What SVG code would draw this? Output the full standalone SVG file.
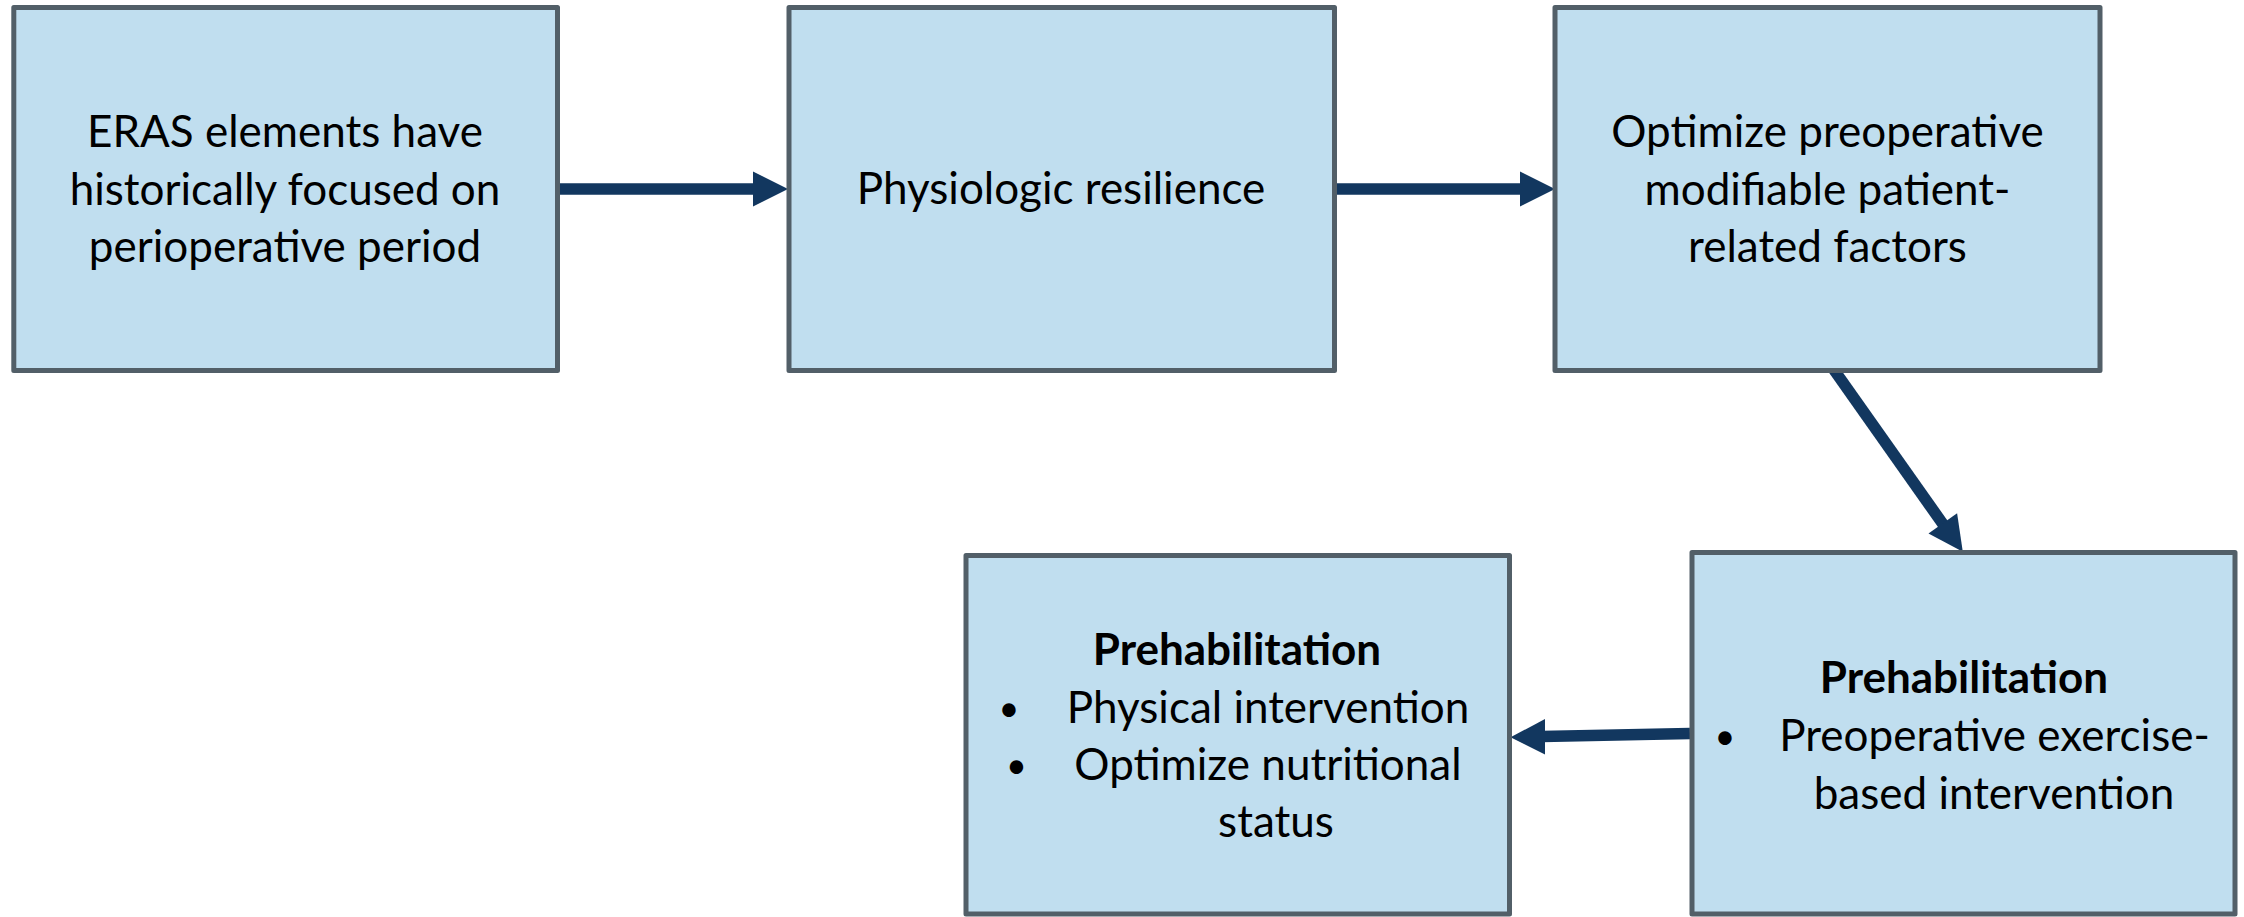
<svg xmlns="http://www.w3.org/2000/svg" width="2244" height="917" viewBox="0 0 2244 917">
<style>
.box{fill:#C0DEEF;stroke:#525F68;stroke-width:5;stroke-linejoin:round}
.t{font-family:Lato,"Liberation Sans",sans-serif;font-size:44px;fill:#000}
.c{text-anchor:middle}
.b{font-weight:bold}
.bl{font-size:36px}
.ln{stroke:#12375F;stroke-width:11.5;fill:none}
.hd{fill:#12375F}
</style>
<rect width="2244" height="917" fill="#FFFFFF"/>
<g id="connectors">
<line class="ln" x1="560" y1="189" x2="756" y2="189"/>
<polygon class="hd" points="753,171.5 788,189 753,206.5"/>
<line class="ln" x1="1337" y1="189" x2="1523" y2="189"/>
<polygon class="hd" points="1520,171.5 1555,189 1520,206.5"/>
<line class="ln" x1="1832" y1="367" x2="1945" y2="527"/>
<polygon class="hd" points="1928.5,533.5 1962.8,551.8 1957.1,513.3"/>
<line class="ln" x1="1690" y1="733.5" x2="1542" y2="736.5"/>
<polygon class="hd" points="1545,719 1510.5,737.3 1545,754.5"/>
</g>
<g id="node1">
<rect class="box" x="13.8" y="7.5" width="543.7" height="363"/>
<text class="t c" x="285" y="147">ERAS elements have</text>
<text class="t c" x="285" y="205">historically focused on</text>
<text class="t c" x="285" y="262">perioperative period</text>
</g>
<g id="node2">
<rect class="box" x="789" y="7.5" width="545.5" height="363"/>
<text class="t c" x="1061" y="204">Physiologic resilience</text>
</g>
<g id="node3">
<rect class="box" x="1555" y="7.5" width="545" height="363"/>
<text class="t c" x="1827.5" y="147">Optimize preoperative</text>
<text class="t c" x="1827.5" y="205">modifiable patient-</text>
<text class="t c" x="1827.5" y="262">related factors</text>
</g>
<g id="node4">
<rect class="box" x="1692" y="552.5" width="543" height="361.5"/>
<text class="t c b" x="1964" y="693">Prehabilitation</text>
<text class="t c bl" x="1725" y="749">•</text>
<text class="t c" x="1994.5" y="751">Preoperative exercise-</text>
<text class="t c" x="1994" y="809">based intervention</text>
</g>
<g id="node5">
<rect class="box" x="966" y="555.5" width="543.5" height="358.5"/>
<text class="t c b" x="1237" y="665">Prehabilitation</text>
<text class="t c bl" x="1009" y="721">•</text>
<text class="t c" x="1268" y="723">Physical intervention</text>
<text class="t c bl" x="1016.5" y="778">•</text>
<text class="t c" x="1268" y="780">Optimize nutritional</text>
<text class="t c" x="1276" y="837">status</text>
</g>
</svg>
